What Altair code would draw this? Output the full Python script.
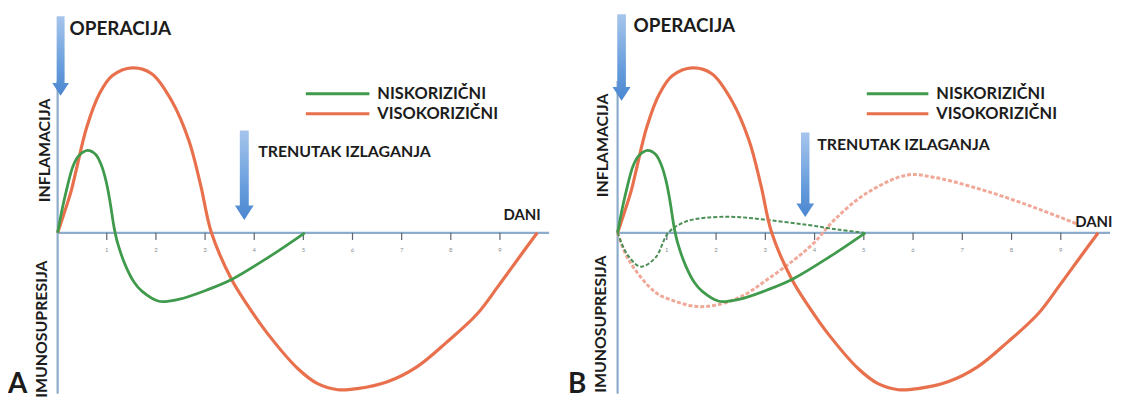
import altair as alt
import pandas as pd

# ---------------- data (days after the operation, relative response) ----------------
tick_days = [1, 2, 3, 4, 5, 6, 7, 8, 9]
tick_labels = ["1", "2", "3", "4", "5", "6", "7", "8", "9"]

# low-risk (NISKORIZIČNI) – solid green
low_day = [0, 0.08, 0.18, 0.32, 0.44, 0.61, 0.77, 0.89, 0.99, 1.07, 1.15, 1.23, 1.39,
           1.56, 1.72, 2.06, 2.46, 3.07, 3.54, 4.28, 5.03]
low_val = [0, 1.31, 2.69, 4.25, 4.88, 5.19, 4.94, 4.25, 3.19, 1.88, 0.31, -0.75, -2.13,
           -3.13, -3.69, -4.31, -4.19, -3.56, -2.94, -1.56, 0]

# high-risk (VISOKORIZIČNI) – solid red
high_day = [0, 0.14, 0.28, 0.40, 0.59, 0.85, 1.11, 1.52, 1.92, 2.32, 2.67, 2.91, 3.13,
            3.54, 3.88, 4.28, 4.89, 5.29, 5.70, 6.10, 6.71, 7.31, 7.92, 8.53, 8.99, 9.43, 9.76]
high_val = [0, 1.31, 2.69, 4.25, 6.63, 8.75, 9.88, 10.38, 10.0, 8.31, 5.81, 3.0, 0,
            -2.94, -4.63, -6.38, -8.56, -9.5, -9.88, -9.81, -9.38, -8.44, -6.88, -5.13, -3.25, -1.38, 0]

# panel B – modulated responses (dashed)
low_mod_day = [0, 0.2, 0.47, 0.77, 1.03, 1.37, 1.77, 2.38, 3.04, 3.85, 4.5, 5.0]
low_mod_val = [0, -1.38, -2.13, -1.56, 0, 0.69, 0.94, 1.0, 0.81, 0.5, 0.19, 0]

high_mod_day = [0, 0.22, 0.77, 1.17, 1.57, 1.98, 2.52, 3.04, 3.59, 3.99, 4.40, 5.06,
                5.87, 6.41, 7.42, 8.43, 9.33]
high_mod_val = [0, -1.69, -3.75, -4.31, -4.63, -4.56, -4.0, -2.94, -1.69, -0.63, 0.81, 2.5,
                3.63, 3.5, 2.69, 1.63, 0.56]

# ---------------- styling ----------------
GREEN = "#3f9a4c"
RED = "#e8704c"
GREEN_DASH = "#4a8f55"
RED_DASH = "#f0a898"
AXIS = "#8daccb"
TXT = "#1c1c1c"
FONT = "Lato"
Y_DOM = [-10.125, 14.0625]
H = 387
INTERP = "catmull-rom"

ARROW = "M -0.1 -1 L 0.1 -1 L 0.1 0.68 L 0.21 0.68 L 0 1 L -0.21 0.68 L -0.1 0.68 Z"
GRAD = alt.LinearGradient(
    gradient="linear",
    stops=[alt.GradientStop(color="#a6c5ec", offset=0),
           alt.GradientStop(color="#6a9fdd", offset=0.6),
           alt.GradientStop(color="#4a86d0", offset=1)],
    x1=0, x2=0, y1=0, y2=1,
)


def curve_df(days, vals):
    return pd.DataFrame({"day": days, "val": vals})


def panel(xdom, width, p):
    xs = alt.Scale(domain=xdom, nice=False, zero=False)
    ys = alt.Scale(domain=Y_DOM, nice=False, zero=False)

    def X(f="day"):
        return alt.X(f, type="quantitative", scale=xs, axis=None)

    def Y(f="val"):
        return alt.Y(f, type="quantitative", scale=ys, axis=None)

    base_axes = pd.DataFrame({"x0": [0], "x1": [10.0], "y0": [0], "ytop": [9.56], "ybot": [Y_DOM[0]]})
    xaxis = alt.Chart(base_axes).mark_rule(color=AXIS, strokeWidth=2.2).encode(
        x=X("x0"), x2="x1", y=Y("y0"))
    yaxis = alt.Chart(base_axes).mark_rule(color=AXIS, strokeWidth=2.2).encode(
        x=X("x0"), y=Y("ytop"), y2="ybot")

    tdf = pd.DataFrame({"day": tick_days, "lab": tick_labels, "t0": 0.0, "t1": -0.45, "tl": -0.9})
    ticks = alt.Chart(tdf).mark_rule(color="#5d6670", strokeWidth=1.2).encode(
        x=X(), y=Y("t0"), y2="t1")
    tlabels = alt.Chart(tdf).mark_text(fontSize=6, color="#8a8f96", font=FONT, baseline="top").encode(
        x=X(), y=Y("tl"), text="lab:N")

    layers = [xaxis, yaxis, ticks, tlabels]

    if p["dashed"]:
        layers.append(alt.Chart(curve_df(high_mod_day, high_mod_val)).mark_line(
            color=RED_DASH, strokeWidth=3, strokeDash=[4, 2], interpolate=INTERP).encode(x=X(), y=Y()))
        layers.append(alt.Chart(curve_df(low_mod_day, low_mod_val)).mark_line(
            color=GREEN_DASH, strokeWidth=2, strokeDash=[4, 2], interpolate=INTERP).encode(x=X(), y=Y()))

    layers.append(alt.Chart(curve_df(high_day, high_val)).mark_line(
        color=RED, strokeWidth=3.2, interpolate=INTERP).encode(x=X(), y=Y()))
    layers.append(alt.Chart(curve_df(low_day, low_val)).mark_line(
        color=GREEN, strokeWidth=2.8, interpolate=INTERP).encode(x=X(), y=Y()))

    def text(s, x, y, size=16, angle=0, align="left", baseline="middle"):
        kw = dict(text=s, font=FONT, fontWeight="bold", fontSize=size, color=TXT,
                  align=align, baseline=baseline)
        if angle:
            kw["angle"] = angle
        return alt.Chart().mark_text(**kw).encode(x=alt.value(x), y=alt.value(y))

    def arrow(cx, top, tip):
        length = tip - top
        return alt.Chart().mark_point(shape=ARROW, filled=True, color=GRAD, opacity=1,
                                      strokeWidth=0, size=length * length).encode(
            x=alt.value(cx), y=alt.value((top + tip) / 2))

    def legline(x0, x1, y, c):
        return alt.Chart().mark_rule(color=c, strokeWidth=3).encode(
            x=alt.value(x0), x2=alt.value(x1), y=alt.value(y))

    a = p
    layers += [
        arrow(*a["op_arrow"]),
        arrow(*a["tr_arrow"]),
        text("OPERACIJA", *a["op_text"], size=19),
        text("TRENUTAK IZLAGANJA", *a["tr_text"], size=16),
        legline(a["leg_x0"], a["leg_x1"], a["leg_y"], GREEN),
        legline(a["leg_x0"], a["leg_x1"], a["leg_y"] + 20, RED),
        text("NISKORIZIČNI", a["leg_x1"] + 8, a["leg_y"], size=16.5),
        text("VISOKORIZIČNI", a["leg_x1"] + 8, a["leg_y"] + 20, size=16.5),
        text("DANI", *a["dani"], size=15),
        text("INFLAMACIJA", *a["infl"], size=16, angle=270, align="center"),
        text("IMUNOSUPRESIJA", *a["imun"], size=16, angle=270, align="center"),
        text(a["letter"], *a["letter_pos"], size=28, baseline="alphabetic"),
    ]
    return alt.layer(*layers).properties(width=width, height=H)


panel_a = panel(
    [-50 / 49.5, (554 - 50) / 49.5], 554,
    dict(dashed=False, op_arrow=(53, 7, 87), tr_arrow=(238, 122, 212),
         op_text=(62, 20), tr_text=(252, 144), leg_x0=300, leg_x1=364, leg_y=85,
         dani=(499, 207), infl=(37, 142), imun=(34, 322), letter="A", letter_pos=(0, 386)),
)
panel_b = panel(
    [-60 / 49.6, (562 - 60) / 49.6], 562,
    dict(dashed=True, op_arrow=(64, 5, 92), tr_arrow=(249, 124, 209),
         op_text=(76, 17), tr_text=(261, 137), leg_x0=311, leg_x1=373, leg_y=85,
         dani=(521, 214), infl=(45, 137), imun=(43, 317), letter="B", letter_pos=(10, 386)),
)

chart = alt.hconcat(panel_a, panel_b, spacing=0, bounds="flush").properties(
    padding=0, background="white"
).configure_view(stroke=None)

chart.save("out.html", embed_options={"renderer": "svg", "actions": False})
